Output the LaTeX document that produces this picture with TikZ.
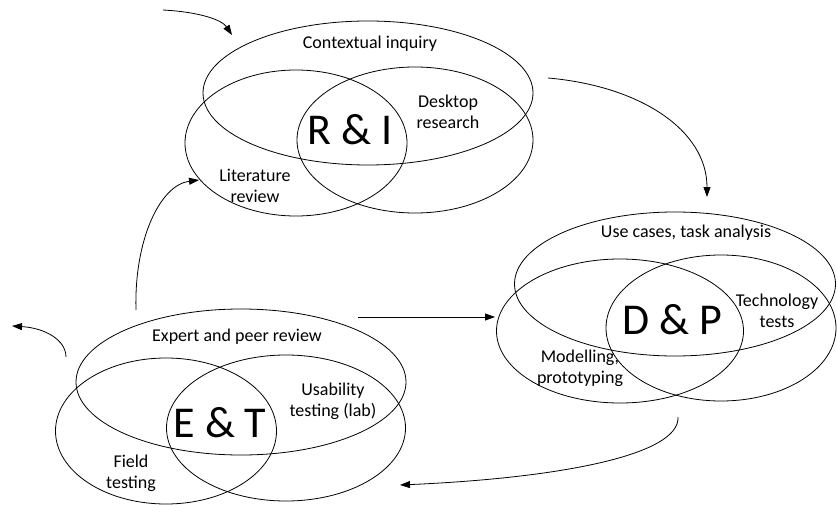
\documentclass[tikz,border=0pt]{standalone}
\usepackage{fontspec}
\setmainfont{Carlito}
\usetikzlibrary{shapes.geometric,arrows.meta}
\begin{document}
\begin{tikzpicture}[x=1pt,y=-1pt,
  ell/.style={draw,ellipse,inner sep=0pt,line width=0.8pt},
  lbl/.style={font=\fontsize{18}{21}\selectfont,align=center,inner sep=0pt},
  big/.style={font=\fontsize{44}{48}\selectfont,inner sep=0pt},
  flow/.style={line width=0.8pt,-{Triangle[length=10pt,width=7pt]}}]
\useasboundingbox (0,0) rectangle (837,505);
% R & I
\node[ell,minimum width=330pt,minimum height=144pt] (riT) at (368,93) {};
\node[ell,minimum width=222pt,minimum height=146pt] (riL) at (296,143) {};
\node[ell,minimum width=236pt,minimum height=146pt] (riR) at (415,140) {};
\node[lbl] (ci) at (370,44) {Contextual inquiry};
\node[lbl] (dr) at (448,112) {Desktop\\research};
\node[lbl] (lr) at (255,186) {Literature\\review};
\node[big] (ri) at (350,130) {R \& I};
% D & P
\node[ell,minimum width=321pt,minimum height=144pt] (dpT) at (675,284) {};
\node[ell,minimum width=247pt,minimum height=144pt] (dpL) at (620,331) {};
\node[ell,minimum width=230pt,minimum height=146pt] (dpR) at (721,328) {};
\node[lbl] (uc) at (686,233) {Use cases, task analysis};
\node[lbl] (tt) at (777,311) {Technology\\tests};
\node[lbl] (mp) at (580,368) {Modelling,\\prototyping};
\node[big] (dp) at (672,320) {D \& P};
% E & T
\node[ell,minimum width=330pt,minimum height=146pt] (etT) at (241,382) {};
\node[ell,minimum width=221pt,minimum height=146pt] (etL) at (166,431) {};
\node[ell,minimum width=239pt,minimum height=146pt] (etR) at (286,428) {};
\node[lbl] (ep) at (237,337) {Expert and peer review};
\node[lbl] (ut) at (333,401) {Usability\\testing (lab)};
\node[lbl] (ft) at (131,473) {Field\\testing};
\node[big] (et) at (220,423) {E \& T};
% connector ends
\coordinate (a1) at (163,10);  \coordinate (b1) at (232,35);
\coordinate (a2) at (548,78);  \coordinate (b2) at (707,197);
\coordinate (a3) at (678,417); \coordinate (b3) at (400,485);
\coordinate (a4) at (358,317); \coordinate (b4) at (495,317);
\coordinate (a5) at (136,310); \coordinate (b5) at (199,180);
\coordinate (a6) at (66,357);  \coordinate (b6) at (12,326);
\draw[flow] (a1) .. controls (200,12) and (222,20) .. (b1);
\draw[flow] (a2) .. controls (640,86) and (707,130) .. (b2);
\draw[flow] (a3) .. controls (680,455) and (560,478) .. (b3);
\draw[flow] (a4) -- (b4);
\draw[flow] (a5) .. controls (134,240) and (160,185) .. (b5);
\draw[flow] (a6) .. controls (66,340) and (45,328) .. (b6);
\end{tikzpicture}
\end{document}
